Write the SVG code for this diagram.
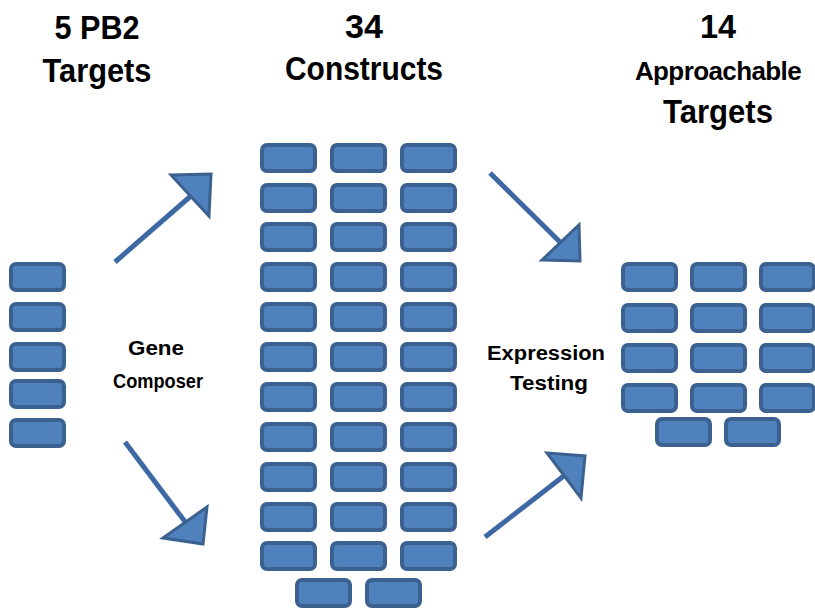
<svg xmlns="http://www.w3.org/2000/svg" width="815" height="609" viewBox="0 0 815 609">
<style>
.b{fill:#4f81bd;stroke:#3b6190;stroke-width:4}
.t{font-family:"Liberation Sans",Arial,sans-serif;font-weight:bold;fill:#000;text-anchor:middle}
.h{font-size:33px}
.s{font-size:20px}
.ln{stroke:#3e68a3;stroke-width:5;fill:none}
.hd{fill:#4f81bd;stroke:#3b6190;stroke-width:3;stroke-linejoin:miter}
</style>
<defs>
<rect id="bx" class="b" width="53" height="26" rx="5"/>
</defs>
<rect width="815" height="609" fill="#fff"/>
<g id="titles">
<text class="t h" x="97" y="39" textLength="85" lengthAdjust="spacingAndGlyphs">5 PB2</text>
<text class="t h" x="97" y="82" textLength="109" lengthAdjust="spacingAndGlyphs">Targets</text>
<text class="t h" x="364" y="38" textLength="38" lengthAdjust="spacingAndGlyphs">34</text>
<text class="t h" x="364" y="80" textLength="158" lengthAdjust="spacingAndGlyphs">Constructs</text>
<text class="t h" x="718" y="38" textLength="36" lengthAdjust="spacingAndGlyphs">14</text>
<text class="t" x="718" y="80" font-size="26" letter-spacing="-0.6">Approachable</text>
<text class="t h" x="718" y="123" textLength="110" lengthAdjust="spacingAndGlyphs">Targets</text>
</g>
<g id="node-pb2-targets">
<use href="#bx" x="11" y="264"/>
<use href="#bx" x="11" y="304"/>
<use href="#bx" x="11" y="344"/>
<use href="#bx" x="11" y="381"/>
<use href="#bx" x="11" y="420"/>
</g>
<g id="node-constructs">
<use href="#bx" x="262" y="145"/><use href="#bx" x="332" y="145"/><use href="#bx" x="402" y="145"/>
<use href="#bx" x="262" y="185"/><use href="#bx" x="332" y="185"/><use href="#bx" x="402" y="185"/>
<use href="#bx" x="262" y="224"/><use href="#bx" x="332" y="224"/><use href="#bx" x="402" y="224"/>
<use href="#bx" x="262" y="264"/><use href="#bx" x="332" y="264"/><use href="#bx" x="402" y="264"/>
<use href="#bx" x="262" y="304"/><use href="#bx" x="332" y="304"/><use href="#bx" x="402" y="304"/>
<use href="#bx" x="262" y="344"/><use href="#bx" x="332" y="344"/><use href="#bx" x="402" y="344"/>
<use href="#bx" x="262" y="384"/><use href="#bx" x="332" y="384"/><use href="#bx" x="402" y="384"/>
<use href="#bx" x="262" y="424"/><use href="#bx" x="332" y="424"/><use href="#bx" x="402" y="424"/>
<use href="#bx" x="262" y="464"/><use href="#bx" x="332" y="464"/><use href="#bx" x="402" y="464"/>
<use href="#bx" x="262" y="504"/><use href="#bx" x="332" y="504"/><use href="#bx" x="402" y="504"/>
<use href="#bx" x="262" y="543"/><use href="#bx" x="332" y="543"/><use href="#bx" x="402" y="543"/>
<use href="#bx" x="297" y="580"/><use href="#bx" x="367" y="580"/>
</g>
<g id="node-approachable">
<use href="#bx" x="623" y="264"/><use href="#bx" x="692" y="264"/><use href="#bx" x="761" y="264"/>
<use href="#bx" x="623" y="305"/><use href="#bx" x="692" y="305"/><use href="#bx" x="761" y="305"/>
<use href="#bx" x="623" y="345"/><use href="#bx" x="692" y="345"/><use href="#bx" x="761" y="345"/>
<use href="#bx" x="623" y="385"/><use href="#bx" x="692" y="385"/><use href="#bx" x="761" y="385"/>
<use href="#bx" x="657" y="419"/><use href="#bx" x="726" y="419"/>
</g>
<g id="connectors">
<line class="ln" x1="115" y1="262" x2="192" y2="195"/>
<polygon class="hd" points="171,175 211,174 209,216"/>
<line class="ln" x1="490" y1="173" x2="562" y2="244"/>
<polygon class="hd" points="542,260 580,261 579,225"/>
<line class="ln" x1="125" y1="442" x2="186" y2="523"/>
<polygon class="hd" points="163,538 207,507 203,544"/>
<line class="ln" x1="485" y1="537" x2="565" y2="475"/>
<polygon class="hd" points="547,453 585,456 581,498"/>
</g>
<g id="labels">
<text class="t s" x="156" y="355" textLength="56" lengthAdjust="spacingAndGlyphs">Gene</text>
<text class="t s" x="158" y="388" textLength="90" lengthAdjust="spacingAndGlyphs">Composer</text>
<text class="t s" x="546" y="360" textLength="118" lengthAdjust="spacingAndGlyphs">Expression</text>
<text class="t s" x="549" y="390" textLength="78" lengthAdjust="spacingAndGlyphs">Testing</text>
</g>
</svg>
